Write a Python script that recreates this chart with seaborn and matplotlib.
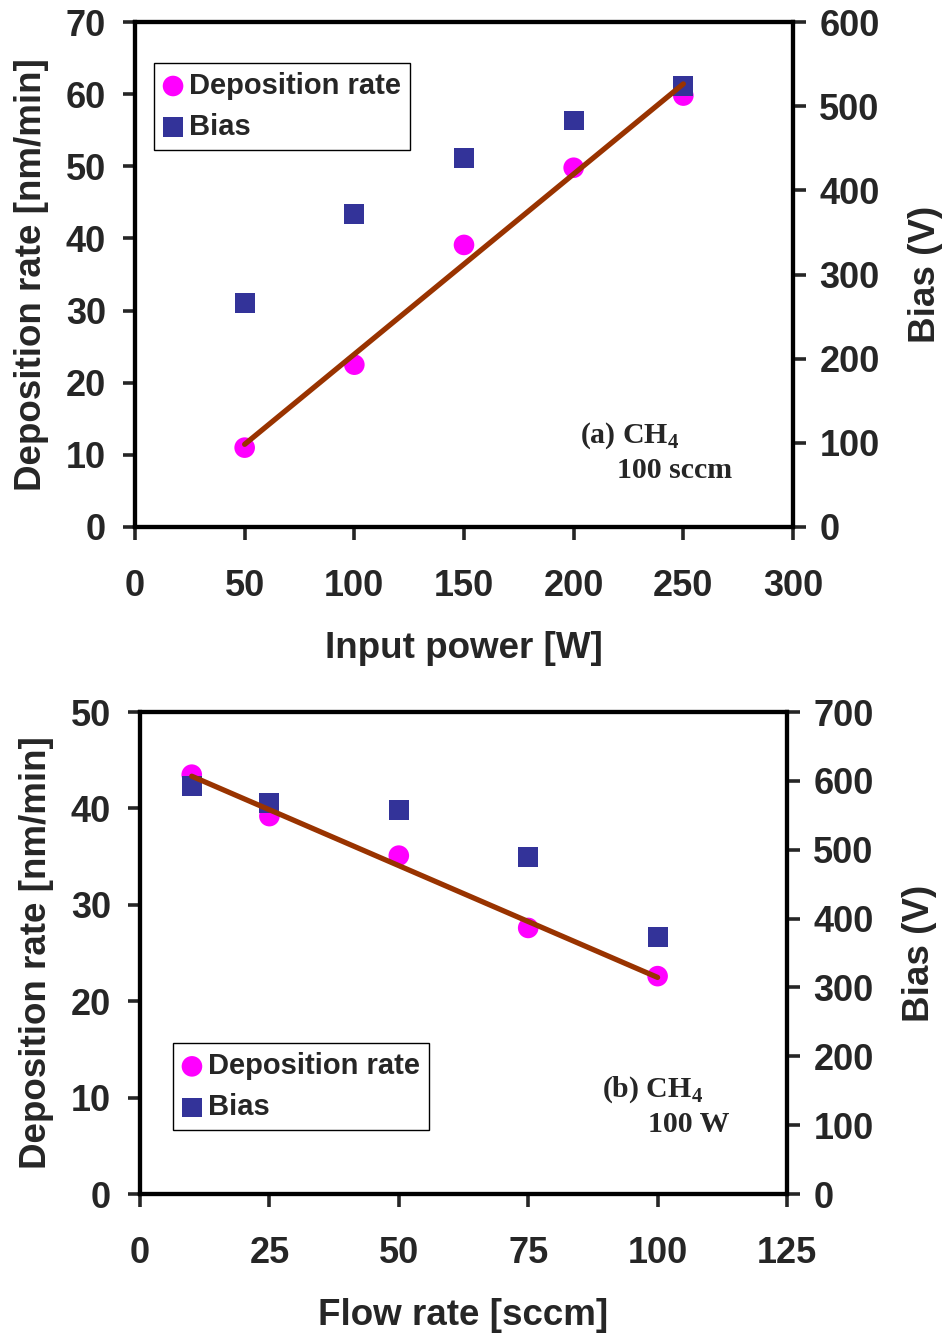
import numpy as np
import pandas as pd
import matplotlib
matplotlib.use("Agg")
import matplotlib.pyplot as plt
import seaborn as sns

# ---- data ----
power_w = [50, 100, 150, 200, 250]
dep_rate_a = [11.0, 22.5, 39.1, 49.8, 59.8]
bias_a = [266, 372, 438, 483, 524]

flow_sccm = [10, 25, 50, 75, 100]
dep_rate_b = [43.5, 39.2, 35.1, 27.6, 22.6]
bias_b = [592, 568, 558, 489, 373]

xticks_a = [0, 50, 100, 150, 200, 250, 300]
yticks_a = [0, 10, 20, 30, 40, 50, 60, 70]
y2ticks_a = [0, 100, 200, 300, 400, 500, 600]
xticks_b = [0, 25, 50, 75, 100, 125]
yticks_b = [0, 10, 20, 30, 40, 50]
y2ticks_b = [0, 100, 200, 300, 400, 500, 600, 700]

sns.set_style("ticks")
plt.rcParams["font.family"] = ["Liberation Sans", "DejaVu Sans"]
plt.rcParams["font.weight"] = "bold"
plt.rcParams["axes.labelweight"] = "bold"

MAG = "#FF00FF"
BLUE = "#333399"
LINE = "#993300"
FS_TICK = 26
FS_LAB = 26.5

fig = plt.figure(figsize=(9.46, 13.34), dpi=100)


def panel(rect, x, dep, bias, xt, yt, y2t, xlabel, leg_anchor, leg_loc, ann1, ann2, ann_pos):
    ax = fig.add_axes(rect)
    ax2 = ax.twinx()
    ax3 = ax.twinx()
    df = pd.DataFrame({"x": x, "dep": dep, "bias": bias})
    sns.scatterplot(data=df, x="x", y="dep", ax=ax, color=MAG, marker="o", s=220,
                    edgecolor="none", label="Deposition rate", zorder=3)
    sns.scatterplot(data=df, x="x", y="bias", ax=ax2, color=BLUE, marker="s", s=205,
                    edgecolor="none", label="Bias", zorder=3)
    sns.regplot(data=df, x="x", y="dep", ax=ax3, scatter=False, ci=None, truncate=True,
                line_kws=dict(color=LINE, lw=3.8, solid_capstyle="round"))
    h1, l1 = ax.get_legend_handles_labels()
    h2, l2 = ax2.get_legend_handles_labels()
    for a in (ax, ax2, ax3):
        if a.get_legend() is not None:
            a.get_legend().remove()

    ax.set_xlim(xt[0], xt[-1])
    ax.set_ylim(yt[0], yt[-1])
    ax2.set_ylim(y2t[0], y2t[-1])
    ax3.set_ylim(yt[0], yt[-1])
    ax.set_xticks(xt)
    ax.set_yticks(yt)
    ax2.set_yticks(y2t)
    ax3.set_yticks([])
    ax3.axis("off")
    ax.set_xlabel(xlabel, fontsize=FS_LAB, fontweight="bold", labelpad=20)
    ax.set_ylabel("Deposition rate [nm/min]", fontsize=FS_LAB, fontweight="bold", labelpad=12)
    ax2.set_ylabel("Bias (V)", fontsize=FS_LAB, fontweight="bold", labelpad=20)
    ax2.set_xlabel("")
    for a in (ax, ax2):
        for sp in a.spines.values():
            sp.set_linewidth(3.0)
            sp.set_color("black")
    ax.tick_params(axis="both", which="major", direction="out", length=9, width=2.6,
                   labelsize=FS_TICK, pad=12, top=False, right=False)
    ax.tick_params(axis="x", pad=21)
    ax2.tick_params(axis="y", direction="out", length=9, width=2.6, labelsize=FS_TICK, pad=10)
    for lab in ax.get_xticklabels() + ax.get_yticklabels() + ax2.get_yticklabels():
        lab.set_fontweight("bold")

    leg = ax3.legend(h1 + h2, l1 + l2, loc=leg_loc, bbox_to_anchor=leg_anchor,
                     borderaxespad=0, frameon=True, fancybox=False, framealpha=1,
                     edgecolor="black", prop=dict(size=21, weight="bold"),
                     handlelength=0.7, handletextpad=0.2, borderpad=0.3,
                     labelspacing=0.45, markerscale=1.0)
    leg.get_frame().set_linewidth(1.0)
    ax3.set_zorder(5)

    serif = ["Liberation Serif", "DejaVu Serif"]
    ax3.text(ann_pos[0], ann_pos[1], ann1, transform=ax3.transAxes, family=serif,
             fontsize=21.5, fontweight="bold", ha="left", va="center")
    ax3.text(ann_pos[2], ann_pos[3], ann2, transform=ax3.transAxes, family=serif,
             fontsize=21.5, fontweight="bold", ha="left", va="center")
    return ax, ax2, ax3


# top panel: axes px x 135..793, y 22..527
panel([135 / 946, 1 - 527 / 1334, (793 - 135) / 946, (527 - 22) / 1334],
      power_w, dep_rate_a, bias_a, xticks_a, yticks_a, y2ticks_a,
      "Input power [W]", (0.029, 0.919), "upper left",
      r"(a) CH$_\mathregular{4}$", "100 sccm",
      ((580 - 135) / 658, (527 - 436) / 505, (617 - 135) / 658, (527 - 471) / 505))

# bottom panel: axes px x 140..787, y 712..1194
panel([140 / 946, 1 - 1194 / 1334, (787 - 140) / 946, (1194 - 712) / 1334],
      flow_sccm, dep_rate_b, bias_b, xticks_b, yticks_b, y2ticks_b,
      "Flow rate [sccm]", (0.051, 0.133), "lower left",
      r"(b) CH$_\mathregular{4}$", "100 W",
      ((602 - 140) / 647, (1194 - 1090) / 482, (648 - 140) / 647, (1194 - 1124) / 482))

fig.savefig("out.png", dpi=100)
